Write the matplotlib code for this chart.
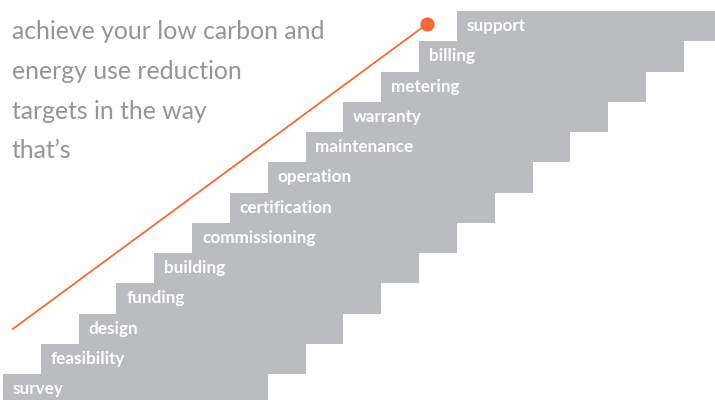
import numpy as np
import matplotlib.pyplot as plt

# steps of the staircase, bottom to top
steps = ['survey', 'feasibility', 'design', 'funding', 'building',
         'commissioning', 'certification', 'operation', 'maintenance',
         'warranty', 'metering', 'billing', 'support']
step_width = 7.0  # each bar is 7 steps long

# orange progress line (in step units)
line_x = [0.24, 11.21]
line_y = [2.47, 12.57]

intro_lines = ['achieve your low carbon and',
               'energy use reduction',
               'targets in the way',
               'that\u2019s']

bar_color = '#bbbcc0'
text_gray = '#949599'
orange = '#f26a35'

fig = plt.figure(figsize=(7.15, 4.0), dpi=100)
ax = fig.add_axes([0, 0, 1, 1])

pos = np.arange(len(steps))
ax.barh(pos, step_width, left=pos, height=1.0, align='edge',
        color=bar_color, linewidth=0)

for i, name in enumerate(steps):
    ax.text(i + 0.26, i + 0.5, name, color='white', fontsize=12.3,
            fontweight='bold', family=['Lato', 'DejaVu Sans'],
            ha='left', va='center')

ax.plot(line_x, line_y, color=orange, lw=1.3, solid_capstyle='butt')
ax.scatter(line_x[-1:], line_y[-1:], s=105, color=orange, zorder=5,
           linewidths=0)

# pixel-ish mapping: 1 step = 37.83 px, 1 row = 30.25 px
ax.set_xlim(-3 / 37.83, 712 / 37.83)
ax.set_ylim((404.25 - 400) / 30.25, 404.25 / 30.25)
ax.axis('off')

baselines = [39, 79, 119, 158]
for txt, yb in zip(intro_lines, baselines):
    fig.text(12 / 715, 1 - yb / 400, txt, color=text_gray, fontsize=17.8,
             family=['Lato', 'DejaVu Sans'], fontweight='normal',
             ha='left', va='baseline')

fig.savefig('out.png', dpi=100)
